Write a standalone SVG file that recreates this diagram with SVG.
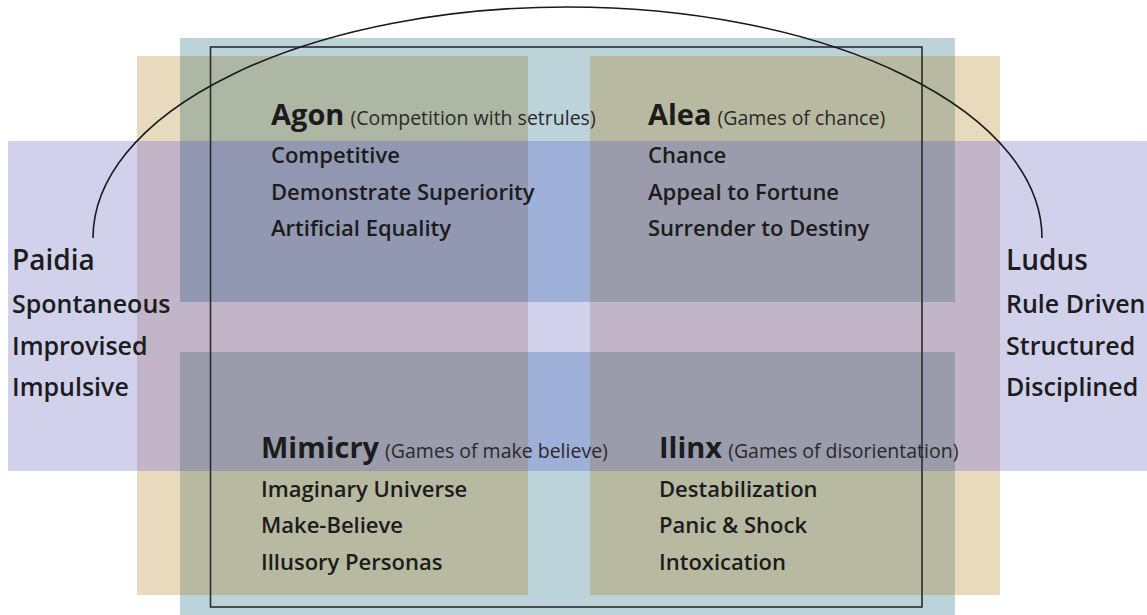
<svg xmlns="http://www.w3.org/2000/svg" width="1147" height="615" viewBox="0 0 1147 615">
<style>
.lav{fill:#d1d1ec}.tan{fill:#e8dabd}.teal{fill:#bcd3d9}.olive{fill:#b7b9a0}.olivetl{fill:#aeb6a4}
.mauve{fill:#c2b5c7}.blue{fill:#9eb0d7}.tri{fill:#9a9bab}.tritl{fill:#9298b2}
text{font-family:"Open Sans","Liberation Sans",sans-serif;fill:#1c1c1c}
.h{font-size:29px;font-weight:700}
.p{font-size:19.5px;font-weight:400;fill:#2a2a2a}
.i{font-size:22px;font-weight:600}
.sh{font-size:28px;font-weight:600}
.si{font-size:25px;font-weight:600}
.frame{fill:none;stroke:#2b2b2b;stroke-width:1.6}
.arc{fill:none;stroke:#1a1a1a;stroke-width:1.6}
</style>
<g id="background">
<rect class="lav" x="8" y="141" width="1139" height="330"/>
<rect class="tan" x="137" y="56" width="391" height="539"/>
<rect class="tan" x="590" y="56" width="410" height="539"/>
<rect class="teal" x="180" y="38" width="775" height="264"/>
<rect class="teal" x="180" y="352" width="775" height="263"/>
<rect class="olivetl" x="180" y="56" width="348" height="246"/>
<rect class="olive" x="590" y="56" width="365" height="246"/>
<rect class="olive" x="180" y="352" width="348" height="243"/>
<rect class="olive" x="590" y="352" width="365" height="243"/>
<rect class="mauve" x="137" y="141" width="391" height="330"/>
<rect class="mauve" x="590" y="141" width="410" height="330"/>
<rect class="blue" x="180" y="141" width="775" height="161"/>
<rect class="blue" x="180" y="352" width="775" height="119"/>
<rect class="tritl" x="180" y="141" width="348" height="161"/>
<rect class="tri" x="590" y="141" width="365" height="161"/>
<rect class="tri" x="180" y="352" width="348" height="119"/>
<rect class="tri" x="590" y="352" width="365" height="119"/>
</g>
<g id="frame">
<rect class="frame" x="210.5" y="47" width="711.5" height="560"/>
</g>
<g id="connectors">
<path class="arc" d="M 93 238 A 474.5 231 0 0 1 1042 238"/>
</g>
<g id="agon">
<text x="271" y="125"><tspan class="h">Agon</tspan><tspan class="p" dx="6">(Competition with setrules)</tspan></text>
<text class="i" x="271" y="163">Competitive</text>
<text class="i" x="271" y="200">Demonstrate Superiority</text>
<text class="i" x="271" y="236">Artificial Equality</text>
</g>
<g id="alea">
<text x="648" y="125"><tspan class="h">Alea</tspan><tspan class="p" dx="6">(Games of chance)</tspan></text>
<text class="i" x="648" y="163">Chance</text>
<text class="i" x="648" y="200">Appeal to Fortune</text>
<text class="i" x="648" y="236">Surrender to Destiny</text>
</g>
<g id="mimicry">
<text x="261" y="458"><tspan class="h">Mimicry</tspan><tspan class="p" dx="6">(Games of make believe)</tspan></text>
<text class="i" x="261" y="497">Imaginary Universe</text>
<text class="i" x="261" y="533">Make-Believe</text>
<text class="i" x="261" y="570">Illusory Personas</text>
</g>
<g id="ilinx">
<text x="659" y="458"><tspan class="h">Ilinx</tspan><tspan class="p" dx="6">(Games of disorientation)</tspan></text>
<text class="i" x="659" y="497">Destabilization</text>
<text class="i" x="659" y="533">Panic &amp; Shock</text>
<text class="i" x="659" y="570">Intoxication</text>
</g>
<g id="paidia">
<text class="sh" x="12" y="270">Paidia</text>
<text class="si" x="12" y="313">Spontaneous</text>
<text class="si" x="12" y="355">Improvised</text>
<text class="si" x="12" y="396">Impulsive</text>
</g>
<g id="ludus">
<text class="sh" x="1006" y="270">Ludus</text>
<text class="si" x="1006" y="313">Rule Driven</text>
<text class="si" x="1006" y="355">Structured</text>
<text class="si" x="1006" y="396">Disciplined</text>
</g>
</svg>
